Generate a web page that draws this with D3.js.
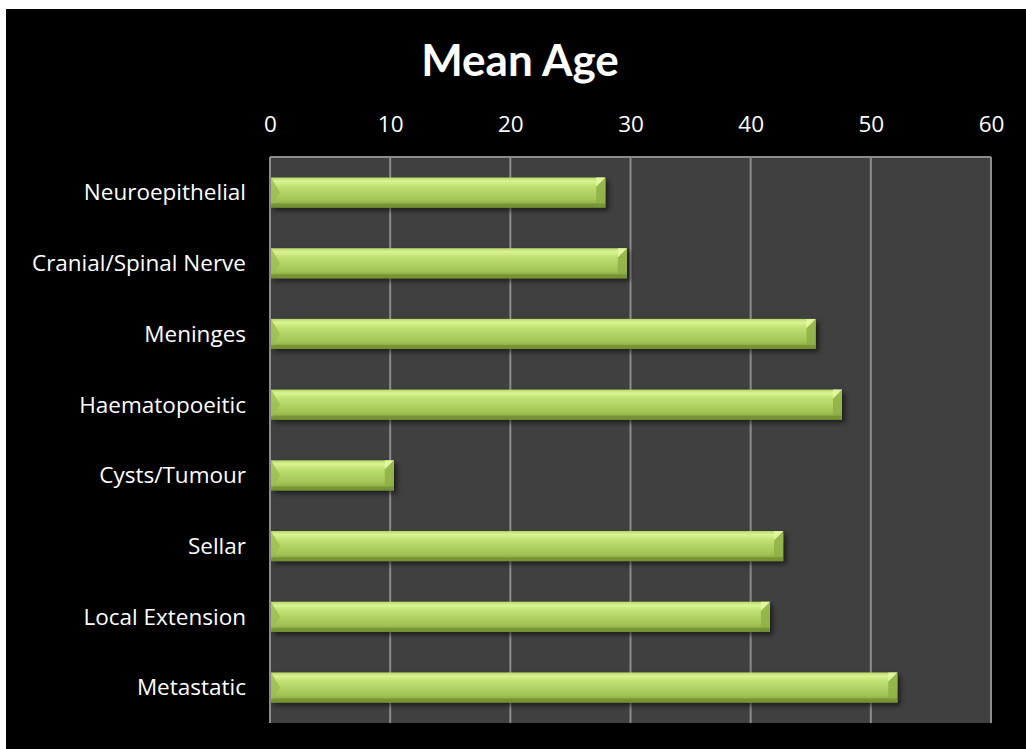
<!DOCTYPE html>
<meta charset="utf-8">
<style type="text/css">
body { margin: 0; background: #fff; }
svg { display: block; }
.tick text { fill: #fff; font-family: "Open Sans", Lato, sans-serif; font-size: 22.5px; }
.title { fill: #fff; font-family: Lato, "Open Sans", sans-serif; font-weight: bold; font-size: 44px; }
.grid line { stroke: #8c8c8c; stroke-width: 2; }
</style>
<svg width="1026" height="749"></svg>
<script src="https://cdn.jsdelivr.net/npm/d3@7"></script>
<script>

var categories = ["Neuroepithelial", "Cranial/Spinal Nerve", "Meninges", "Haematopoeitic",
                  "Cysts/Tumour", "Sellar", "Local Extension", "Metastatic"];
var meanAge = [27.9, 29.7, 45.4, 47.6, 10.3, 42.7, 41.6, 52.2];
var xTicks = [0, 10, 20, 30, 40, 50, 60];

var svg = d3.select("svg"),
    width = +svg.attr("width"),
    height = +svg.attr("height");

// black chart area inside a thin white margin
svg.append("rect").attr("x", 6).attr("y", 9)
   .attr("width", width - 6).attr("height", height - 9).attr("fill", "#000");

var plot = {left: 270, top: 157, right: 991, bottom: 723};

var x = d3.scaleLinear().domain([0, 60]).range([plot.left, plot.right]);
var y = d3.scaleBand().domain(categories).range([plot.top, plot.bottom]).paddingInner(0.575).paddingOuter(0.29);

var defs = svg.append("defs");
var grad = defs.append("linearGradient").attr("id", "barFill").attr("x1", 0).attr("y1", 0).attr("x2", 0).attr("y2", 1);
grad.append("stop").attr("offset", "0%").attr("stop-color", "#b7d96a");
grad.append("stop").attr("offset", "12%").attr("stop-color", "#d9f491");
grad.append("stop").attr("offset", "30%").attr("stop-color", "#bfe072");
grad.append("stop").attr("offset", "75%").attr("stop-color", "#a2c454");
grad.append("stop").attr("offset", "100%").attr("stop-color", "#7e9c38");

var shadow = defs.append("filter").attr("id", "shadow").attr("x", "-5%").attr("y", "-30%").attr("width", "115%").attr("height", "170%");
shadow.append("feDropShadow").attr("dx", 3).attr("dy", 3).attr("stdDeviation", 2.5)
      .attr("flood-color", "#000").attr("flood-opacity", 0.55);

// plot background
svg.append("rect")
   .attr("x", plot.left).attr("y", plot.top)
   .attr("width", plot.right - plot.left).attr("height", plot.bottom - plot.top)
   .attr("fill", "#404040");

// vertical gridlines
svg.append("g").attr("class", "grid")
   .selectAll("line").data(xTicks).join("line")
   .attr("x1", d => x(d)).attr("x2", d => x(d))
   .attr("y1", plot.top).attr("y2", plot.bottom);

svg.append("line").attr("x1", plot.left).attr("x2", plot.right)
   .attr("y1", plot.top).attr("y2", plot.top)
   .attr("stroke", "#8c8c8c").attr("stroke-width", 2);

// top axis labels
var xAxis = svg.append("g")
   .attr("transform", "translate(0," + (plot.top - 25) + ")")
   .call(d3.axisTop(x).tickValues(xTicks).tickSize(0).tickPadding(0));
xAxis.select(".domain").remove();

// category labels
var yAxis = svg.append("g")
   .attr("transform", "translate(" + (plot.left - 24) + ",0)")
   .call(d3.axisLeft(y).tickSize(0).tickPadding(0));
yAxis.select(".domain").remove();
yAxis.selectAll(".tick text").attr("dy", "0.35em");

// bars
var bh = y.bandwidth(), bev = 9;
var bars = svg.append("g").selectAll("g").data(categories).join("g")
   .attr("filter", "url(#shadow)");

bars.append("rect")
   .attr("x", x(0) + 1).attr("y", d => y(d))
   .attr("width", (d, i) => x(meanAge[i]) - x(0) - 1).attr("height", bh)
   .attr("fill", "url(#barFill)");

// bevel ends
bars.append("path")
   .attr("d", (d, i) => {
     var x0 = x(0) + 1, y0 = y(d);
     return "M" + x0 + "," + y0 + "L" + (x0 + bev) + "," + (y0 + bh / 2) + "L" + x0 + "," + (y0 + bh) + "Z";
   })
   .attr("fill", "#9cbd4f").attr("opacity", 0.8);

bars.append("path")
   .attr("d", (d, i) => {
     var x1 = x(meanAge[i]), y0 = y(d);
     return "M" + x1 + "," + y0 + "L" + (x1 - bev) + "," + (y0 + bev) + "L" + (x1 - bev) + "," + (y0 + bh - 4) + "L" + x1 + "," + (y0 + bh) + "Z";
   })
   .attr("fill", "#8fae45").attr("opacity", 0.85);

bars.append("path")
   .attr("d", (d, i) => {
     var x1 = x(meanAge[i]), y0 = y(d);
     return "M" + x1 + "," + y0 + "L" + (x1 - bev) + "," + (y0 + bev) + "L" + (x1 - bev) + "," + y0 + "Z";
   })
   .attr("fill", "#e2f7a2").attr("opacity", 0.9);

bars.append("rect")
   .attr("x", x(0) + 1).attr("y", d => y(d) + bh - 4)
   .attr("width", (d, i) => x(meanAge[i]) - x(0) - 1).attr("height", 4)
   .attr("fill", "#6f8c30").attr("opacity", 0.7);

// title
svg.append("text").attr("class", "title")
   .attr("x", 520).attr("y", 76)
   .attr("text-anchor", "middle")
   .text("Mean Age");

</script>
